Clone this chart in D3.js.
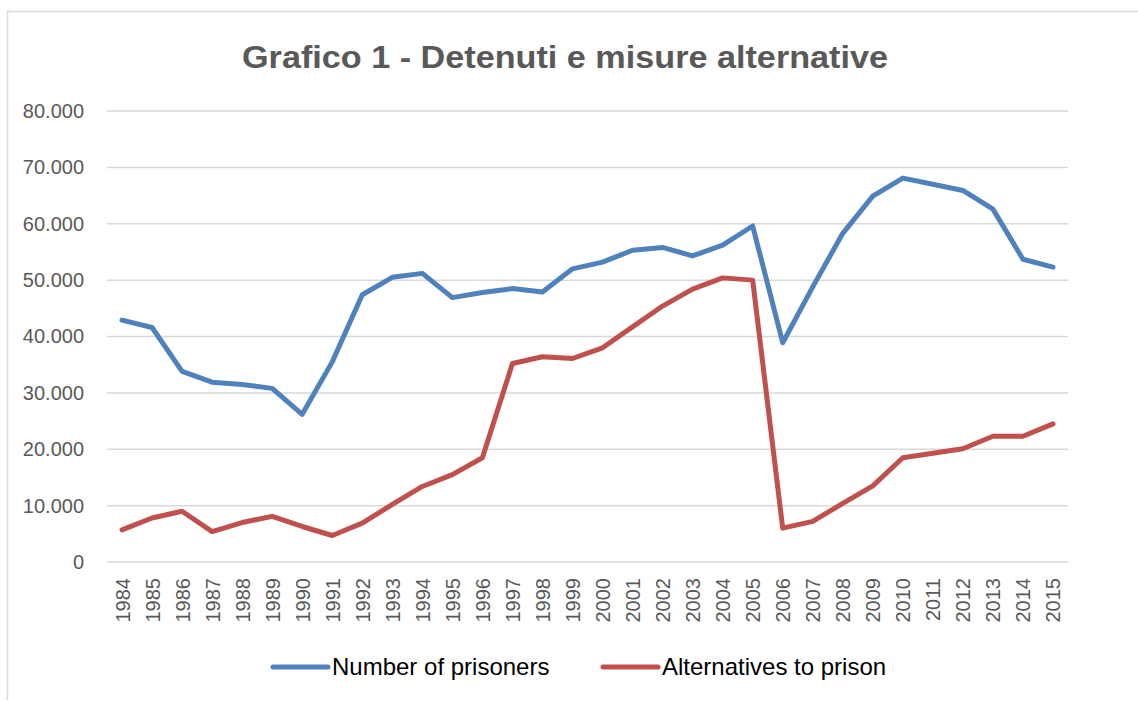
<!DOCTYPE html>
<html>
<head>
<meta charset="utf-8">
<script src="https://cdn.jsdelivr.net/npm/d3@7"></script>
<style>
  body { margin: 0; background: #fff; }
  svg { display: block; font-family: "Liberation Sans", Arial, sans-serif; }
  .tick text { fill: #595959; }
</style>
</head>
<body>
<svg id="chart" width="1138" height="701"></svg>
<script>
// Data
const years = d3.range(1984, 2016).map(String);
const prisoners = [42900, 41600, 33800, 31900, 31500, 30800, 26200, 35500, 47400, 50500,
  51200, 46900, 47800, 48500, 47900, 52000, 53200, 55300, 55800, 54300,
  56200, 59600, 38900, 48800, 58300, 64900, 68100, 67000, 65900, 62600,
  53700, 52300];
const alternatives = [5700, 7800, 9000, 5400, 7000, 8100, 6300, 4700, 6900, 10200,
  13400, 15500, 18500, 35200, 36400, 36100, 38000, 41700, 45400, 48400,
  50400, 50000, 6000, 7200, 10400, 13500, 18500, 19300, 20100, 22300,
  22300, 24500];
const yTicks = [0, 10000, 20000, 30000, 40000, 50000, 60000, 70000, 80000];
const seriesNames = ["Number of prisoners", "Alternatives to prison"];
const colors = ["#4F81BD", "#C0504D"];

const svg = d3.select("#chart");
const margin = { top: 111, right: 70, bottom: 139, left: 107 };
const innerWidth = 1138 - margin.left - margin.right;
const innerHeight = 701 - margin.top - margin.bottom;

// Chart border (top and left edges visible)
svg.append("path")
  .attr("d", "M7.5,700 V11.5 H1138")
  .attr("fill", "none")
  .attr("stroke", "#D9D9D9")
  .attr("stroke-width", 1.5);

// Title
svg.append("text")
  .attr("x", 565)
  .attr("y", 68)
  .attr("text-anchor", "middle")
  .attr("font-size", 32)
  .attr("font-weight", "bold")
  .attr("fill", "#595959")
  .attr("textLength", 646)
  .attr("lengthAdjust", "spacingAndGlyphs")
  .text("Grafico 1 - Detenuti e misure alternative");

const g = svg.append("g")
  .attr("transform", `translate(${margin.left},${margin.top})`);

// Scales
const x = d3.scalePoint()
  .domain(years)
  .range([0, innerWidth])
  .padding(0.5);

const y = d3.scaleLinear()
  .domain([0, 80000])
  .range([innerHeight, 0]);

// Gridlines
g.append("g")
  .selectAll("line")
  .data(yTicks)
  .join("line")
  .attr("x1", 0)
  .attr("x2", innerWidth)
  .attr("y1", d => y(d))
  .attr("y2", d => y(d))
  .attr("stroke", "#D9D9D9")
  .attr("stroke-width", 1.5);

// Y axis
const yAxis = g.append("g")
  .call(d3.axisLeft(y)
    .tickValues(yTicks)
    .tickSize(0)
    .tickPadding(23)
    .tickFormat(d => d === 0 ? "0" : d3.format(",")(d).replace(/,/g, ".")));
yAxis.select(".domain").remove();
yAxis.selectAll("text").attr("font-size", 20).attr("font-family", "Liberation Sans");

// X axis
const xAxis = g.append("g")
  .attr("transform", `translate(0,${innerHeight})`)
  .call(d3.axisBottom(x).tickSize(0));
xAxis.select(".domain").remove();
xAxis.selectAll("text")
  .attr("font-size", 20)
  .attr("font-family", "Liberation Sans")
  .attr("transform", "rotate(-90)")
  .attr("text-anchor", "end")
  .attr("x", -16)
  .attr("y", 0)
  .attr("dy", "0.35em");

// Lines
const line = d3.line()
  .x((d, i) => x(years[i]))
  .y(d => y(d));

[prisoners, alternatives].forEach((values, i) => {
  g.append("path")
    .datum(values)
    .attr("fill", "none")
    .attr("stroke", colors[i])
    .attr("stroke-width", 5)
    .attr("stroke-linejoin", "round")
    .attr("stroke-linecap", "round")
    .attr("d", line);
});

// Legend
const legendX = [273, 603];
const legend = svg.append("g");
seriesNames.forEach((name, i) => {
  legend.append("line")
    .attr("x1", legendX[i])
    .attr("x2", legendX[i] + 55)
    .attr("y1", 667)
    .attr("y2", 667)
    .attr("stroke", colors[i])
    .attr("stroke-width", 5)
    .attr("stroke-linecap", "round");
  legend.append("text")
    .attr("x", legendX[i] + 59)
    .attr("y", 667)
    .attr("dy", "0.35em")
    .attr("font-size", 24)
    .attr("fill", "#000")
    .text(name);
});
</script>
</body>
</html>
